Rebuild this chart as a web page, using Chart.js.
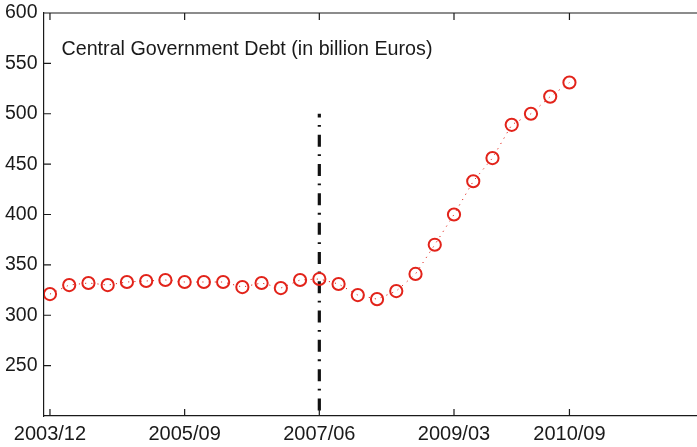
<!DOCTYPE html>
<html>
<head>
<meta charset="utf-8">
<script src="https://cdn.jsdelivr.net/npm/chart.js@4/dist/chart.umd.min.js"></script>
<style>
  html, body { margin: 0; padding: 0; background: #fff; overflow: hidden; }
  canvas { display: block; }
</style>
</head>
<body>
<canvas id="debt_chart" width="697" height="447"></canvas>
<script>
// quarterly observations
var quarters = ['2003/12', '2004/03', '2004/06', '2004/09', '2004/12', '2005/03', '2005/06',
                '2005/09', '2005/12', '2006/03', '2006/06', '2006/09', '2006/12', '2007/03',
                '2007/06', '2007/09', '2007/12', '2008/03', '2008/06', '2008/09', '2008/12',
                '2009/03', '2009/06', '2009/09', '2009/12', '2010/03', '2010/06', '2010/09'];
var debt = [321, 330, 332, 330, 333, 334, 335, 333, 333, 333, 328, 332, 327, 335,
            336, 331, 320, 316, 324, 341, 370, 400, 433, 456, 489, 500, 517, 531];

var xTickLabels = ['2003/12', '2005/09', '2007/06', '2009/03', '2010/09'];
var yTickValues = [250, 300, 350, 400, 450, 500, 550, 600];

var crisisQuarter = '2007/06';
var crisisLine = [500, 200];   // drawn top to bottom
var titleText = 'Central Government Debt (in billion Euros)';

var red = '#e2231a';
var ink = '#1a1a1a';
var fontFam = '"Liberation Sans", Arial, Helvetica, sans-serif';

var seriesData = quarters.map(function(q, i) { return {x: i, y: debt[i]}; });
var crisisData = crisisLine.map(function(v) { return {x: quarters.indexOf(crisisQuarter), y: v}; });

// box on top + inward tick marks + the text inside the axes
var frame_plugin = {
  id: 'frame',
  afterDraw: function(chart) {
    var ctx = chart.ctx;
    var area = chart.chartArea;
    var xs = chart.scales.x, ys = chart.scales.y;
    ctx.save();
    ctx.strokeStyle = ink;
    ctx.lineWidth = 1.2;
    ctx.beginPath();
    ctx.moveTo(area.left, area.top);
    ctx.lineTo(area.right, area.top);
    xs.ticks.forEach(function(t) {
      var px = xs.getPixelForValue(t.value);
      ctx.moveTo(px, area.bottom); ctx.lineTo(px, area.bottom - 7);
      ctx.moveTo(px, area.top); ctx.lineTo(px, area.top + 7);
    });
    ys.ticks.forEach(function(t) {
      var py = ys.getPixelForValue(t.value);
      ctx.moveTo(area.left, py); ctx.lineTo(area.left + 7, py);
    });
    ctx.stroke();

    ctx.font = '19.7px ' + fontFam;
    ctx.fillStyle = ink;
    ctx.textAlign = 'left';
    ctx.textBaseline = 'alphabetic';
    ctx.fillText(titleText, area.left + 17.5, area.top + 42);
    ctx.restore();
  }
};

var chart = new Chart(document.getElementById('debt_chart'), {
  type: 'line',
  data: {
    datasets: [{
      data: seriesData,
      borderColor: red,
      borderWidth: 1,
      borderDash: [1.2, 5],
      pointRadius: 6.1,
      pointBorderWidth: 2,
      pointBorderColor: red,
      pointBackgroundColor: 'rgba(0,0,0,0)',
      tension: 0
    }, {
      data: crisisData,
      borderColor: '#111',
      borderWidth: 3.2,
      borderDash: [12, 7.5, 1.8, 8],
      borderDashOffset: 8.3,
      borderCapStyle: 'butt',
      pointRadius: 0
    }]
  },
  options: {
    responsive: false,
    animation: false,
    devicePixelRatio: 1,
    layout: { autoPadding: false, padding: { top: 13, left: 0, right: 0, bottom: 0 } },
    plugins: { legend: { display: false }, tooltip: { enabled: false } },
    scales: {
      x: {
        type: 'linear',
        min: -0.31,
        max: 33.63,
        grid: { display: false, drawTicks: false },
        border: { display: true, color: ink, width: 1.2 },
        afterBuildTicks: function(s) {
          s.ticks = xTickLabels.map(function(l) { return {value: quarters.indexOf(l)}; });
        },
        afterFit: function(s) {
          s.height = 31;
          s.paddingLeft = 0; s.paddingRight = 0;
        },
        ticks: {
          autoSkip: false,
          maxRotation: 0,
          padding: 6,
          color: ink,
          font: { family: fontFam, size: 20 },
          callback: function(v) { return quarters[v]; }
        }
      },
      y: {
        min: 200,
        max: 600,
        grid: { display: false, drawTicks: false },
        border: { display: true, color: ink, width: 1.2 },
        afterBuildTicks: function(s) {
          s.ticks = yTickValues.map(function(v) { return {value: v}; });
        },
        afterFit: function(s) {
          s.width = 44;
          s.paddingTop = 0; s.paddingBottom = 0;
        },
        ticks: {
          padding: 6.5,
          color: ink,
          font: { family: fontFam, size: 19.5 }
        }
      }
    }
  },
  plugins: [frame_plugin]
});
</script>
</body>
</html>
